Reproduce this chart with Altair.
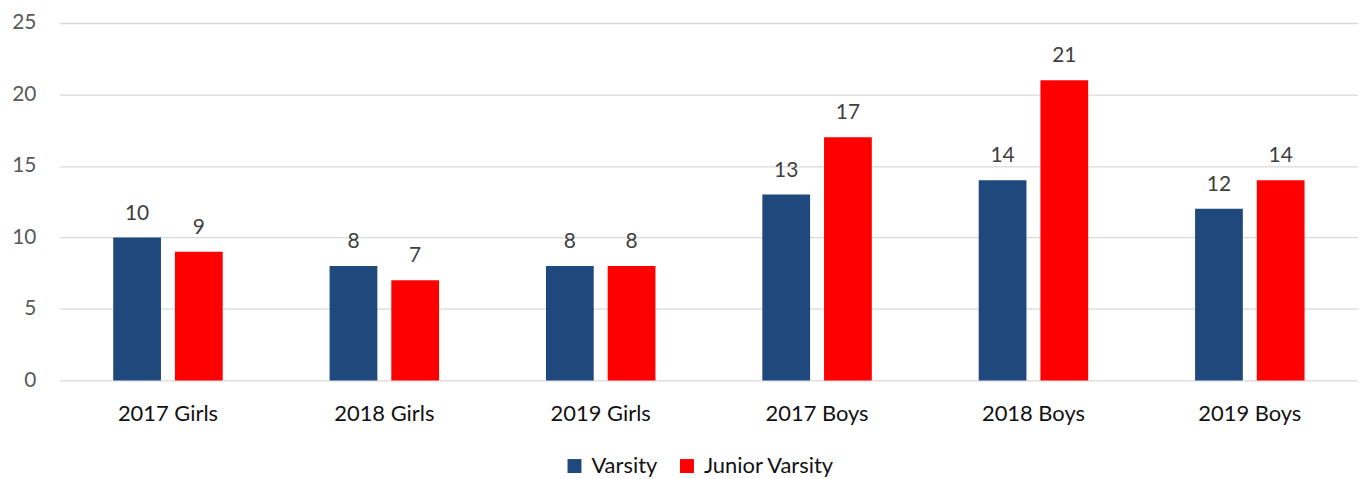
import altair as alt
import pandas as pd

categories = ["2017 Girls", "2018 Girls", "2019 Girls", "2017 Boys", "2018 Boys", "2019 Boys"]
series = ["Varsity", "Junior Varsity"]
varsity = [10, 8, 8, 13, 14, 12]
junior_varsity = [9, 7, 8, 17, 21, 14]
colors = ["#1F497D", "#FF0000"]

rows = []
for c, v, j in zip(categories, varsity, junior_varsity):
    rows.append({"category": c, "series": "Varsity", "value": v})
    rows.append({"category": c, "series": "Junior Varsity", "value": j})
df = pd.DataFrame(rows)

FONT = "Lato"

x = alt.X("category:N", sort=categories, title=None,
          scale=alt.Scale(paddingInner=0.494, paddingOuter=0.247),
          axis=alt.Axis(labelAngle=0, labelFontSize=22, labelColor="#111111",
                        labelFont=FONT, labelPadding=23, domain=False, ticks=False, grid=False))
xo = alt.XOffset("series:N", sort=series, scale=alt.Scale(paddingInner=0.226, paddingOuter=0))

base = alt.Chart(df).encode(x=x, xOffset=xo)

bars = base.mark_bar().encode(
    y=alt.Y("value:Q", title=None,
            scale=alt.Scale(domain=[0, 25], nice=False),
            axis=alt.Axis(values=[0, 5, 10, 15, 20, 25], labelFontSize=21, labelColor="#595959",
                          labelFont=FONT, labelPadding=24, domain=False, ticks=False,
                          grid=True, gridColor="#D9D9D9", gridWidth=1.3)),
    color=alt.Color("series:N", sort=series,
                    scale=alt.Scale(domain=series, range=colors),
                    legend=alt.Legend(title=None, orient="none", direction="horizontal",
                                      legendX=506, legendY=434, symbolType="square",
                                      symbolSize=196, symbolStrokeWidth=0,
                                      labelFontSize=22, labelColor="#111111", labelFont=FONT,
                                      labelOffset=6, columnPadding=18)),
)

labels = base.mark_text(baseline="bottom", dy=-14, fontSize=21, color="#404040", font=FONT).encode(
    y="value:Q",
    text="value:Q",
)

chart = (bars + labels).properties(
    width=1304, height=359,
    autosize=alt.AutoSizeParams(type="none"),
    padding={"left": 52, "top": 14, "right": 0, "bottom": 100},
).configure_view(stroke=None)

chart.save("out.html", embed_options={"renderer": "svg", "actions": False})
